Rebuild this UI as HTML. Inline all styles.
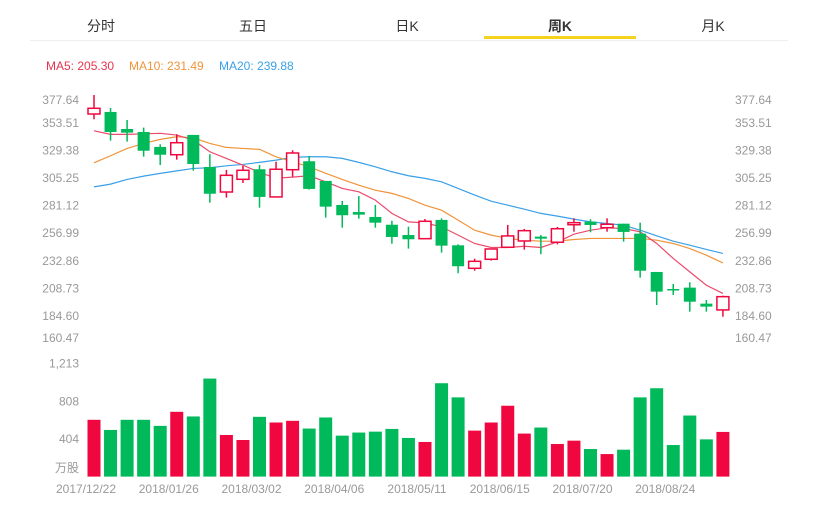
<!DOCTYPE html>
<html><head><meta charset="utf-8"><style>
body{margin:0;background:#fff;font-family:"Liberation Sans","Noto Sans CJK SC",sans-serif;}
#wrap{position:relative;width:817px;height:511px;overflow:hidden;}
.tab{position:absolute;top:16px;font-size:14px;color:#333;transform:translateX(-50%);}
</style></head><body>
<div id="wrap">
<div class="tab" style="left:101px">分时</div>
<div class="tab" style="left:253px">五日</div>
<div class="tab" style="left:407px">日K</div>
<div class="tab" style="left:560px;font-weight:bold">周K</div>
<div class="tab" style="left:713px">月K</div>
<div style="position:absolute;left:484px;top:36px;width:152px;height:3px;background:#f5d21e"></div>
<div style="position:absolute;left:30px;top:40px;width:758px;height:1px;background:#eee"></div>
<div style="position:absolute;left:46px;top:59px;font-size:12px;color:#e8334f">MA5: 205.30</div>
<div style="position:absolute;left:129px;top:59px;font-size:12px;color:#f0943a">MA10: 231.49</div>
<div style="position:absolute;left:219px;top:59px;font-size:12px;color:#3aa0e8">MA20: 239.88</div>
<svg id="chart" width="817" height="511" style="position:absolute;left:0;top:0"></svg>
</div>
<script>
const opens=[361.2,363.0,348.1,345.5,332.4,325.6,342.9,314.9,293.0,304.1,312.9,288.7,312.5,319.9,302.7,281.7,275.5,271.2,264.4,255.4,252.2,268.6,246.4,226.3,234.2,244.7,250.2,254.0,249.1,264.4,267.1,261.8,265.3,256.6,223.1,208.2,209.4,195.4,189.9];
const closes=[366.2,345.5,344.9,329.1,325.6,336.1,317.5,291.5,307.6,312.0,288.7,312.9,327.1,295.7,280.2,272.7,273.2,266.2,253.7,251.7,267.4,246.1,228.1,232.4,243.2,254.6,259.2,252.2,260.9,266.2,264.2,264.8,258.1,224.2,205.9,207.1,197.1,192.8,201.5];
const highs=[377.8,366.5,356.0,349.3,334.7,343.5,342.9,326.0,312.3,315.8,316.6,319.5,329.5,324.5,302.7,285.2,289.5,281.7,267.9,262.7,269.4,270.0,247.3,234.7,243.2,264.2,260.7,255.4,262.4,270.0,269.2,270.0,265.3,266.2,223.1,212.6,214.1,198.6,202.4];
const lows=[356.6,337.9,337.0,323.9,316.6,321.3,311.7,283.7,288.1,300.9,279.3,288.7,306.4,295.1,270.6,261.8,269.7,261.8,247.8,243.5,252.2,240.0,222.0,224.2,233.0,244.7,242.6,238.6,247.3,258.3,257.8,258.3,249.6,218.1,194.2,203.0,188.4,188.4,184.0];
const ma5=[346.5,343.4,343.4,343.9,344.3,342.8,338.4,328.2,322.4,316.5,310.1,305.1,306.0,307.2,301.9,296.1,293.2,285.9,274.3,266.9,266.0,262.5,255.3,248.0,244.5,244.5,245.6,244.5,249.4,256.1,259.6,261.7,261.1,258.2,248.0,234.9,223.2,211.5,204.3];
const ma10=[318.5,324.7,331.1,335.5,339.0,341.3,340.4,335.5,332.0,331.1,330.3,323.8,319.4,315.0,309.3,304.0,299.0,294.6,291.8,287.4,281.5,277.1,268.4,259.6,255.3,252.4,250.9,250.0,250.0,251.5,252.4,252.4,252.4,252.4,250.9,248.0,243.6,237.8,231.0];
const ma20=[297.5,299.9,304.0,306.9,309.3,311.5,313.6,314.2,315.9,317.1,318.9,320.9,323.3,323.8,323.8,322.4,318.9,315.0,310.7,307.2,304.9,301.9,296.1,290.3,285.0,281.5,278.0,274.3,271.9,269.3,266.9,265.5,264.0,259.6,254.7,250.0,246.5,242.8,239.3];
const volumes=[610,501,610,610,545,696,646,1053,447,393,642,581,599,516,635,440,473,483,512,415,372,1003,851,494,581,761,462,527,350,386,296,242,289,851,949,339,656,400,480];
const priceTicks=[377.64,353.51,329.38,305.25,281.12,256.99,232.86,208.73,184.60,160.47];
const volTicks=[1213,808,404];
const dateLabels=["2017/12/22","2018/01/26","2018/03/02","2018/04/06","2018/05/11","2018/06/15","2018/07/20","2018/08/24"];

const RED="#f0073f",GREEN="#00b95a";
const svg=document.getElementById('chart');
const NS="http://www.w3.org/2000/svg";
function mk(tag,attrs){const e=document.createElementNS(NS,tag);for(const k in attrs)e.setAttribute(k,attrs[k]);svg.appendChild(e);return e;}
const x=i=>94+i*16.55;
const y=p=>316-(p-184.6)*1.1438;
const yv=v=>476.6-v*0.0931;

// price ticks
priceTicks.forEach((p,i)=>{
  let ty=Math.min(Math.max(y(p),100),338)+4;
  let t=mk('text',{x:79,y:ty,'text-anchor':'end','font-size':12,fill:'#999'});t.textContent=p.toFixed(2);
  
  
  let t2=mk('text',{x:735,y:ty,'font-size':12,fill:'#999'});t2.textContent=p.toFixed(2);
  
  
});
// MA lines
[[ma20,'#3aa0e8','ma20-line'],[ma10,'#f0943a','ma10-line'],[ma5,'#ec4a6a','ma5-line']].forEach(([arr,c,n])=>{
  const l=mk('polyline',{points:arr.map((v,i)=>x(i)+','+y(v)).join(' '),fill:'none',stroke:c,'stroke-width':1.2});
  
  
});
// candles
opens.forEach((o,i)=>{
  const c=closes[i],up=c>=o,col=up?RED:GREEN;
  const w=mk('line',{x1:x(i),x2:x(i),y1:y(highs[i]),y2:y(lows[i]),stroke:col,'stroke-width':1.5});
  
  
  const top=y(Math.max(o,c)),h=Math.max(Math.abs(y(o)-y(c)),1.5);
  const b=mk('rect',{x:x(i)-6,y:top,width:12,height:h,fill:up?'#fff':col,stroke:col,'stroke-width':up?1.5:0});
  
  
});
// volume
volumes.forEach((v,i)=>{
  const up=closes[i]>=opens[i];
  const r=mk('rect',{x:x(i)-6.5,y:yv(v),width:13,height:476.6-yv(v),fill:up?RED:GREEN});
  
  
});
volTicks.forEach(v=>{
  const t=mk('text',{x:79,y:yv(v)+4,'text-anchor':'end','font-size':12,fill:'#999'});t.textContent=v.toLocaleString('en-US');
  
  
});
const u=mk('text',{x:79,y:472,'text-anchor':'end','font-size':12,fill:'#999'});u.textContent='万股';


dateLabels.forEach((d,k)=>{
  const t=mk('text',{x:x(k*5)-8,y:493,'text-anchor':'middle','font-size':12,fill:'#999'});t.textContent=d;
  
  
});
</script>
</body></html>
